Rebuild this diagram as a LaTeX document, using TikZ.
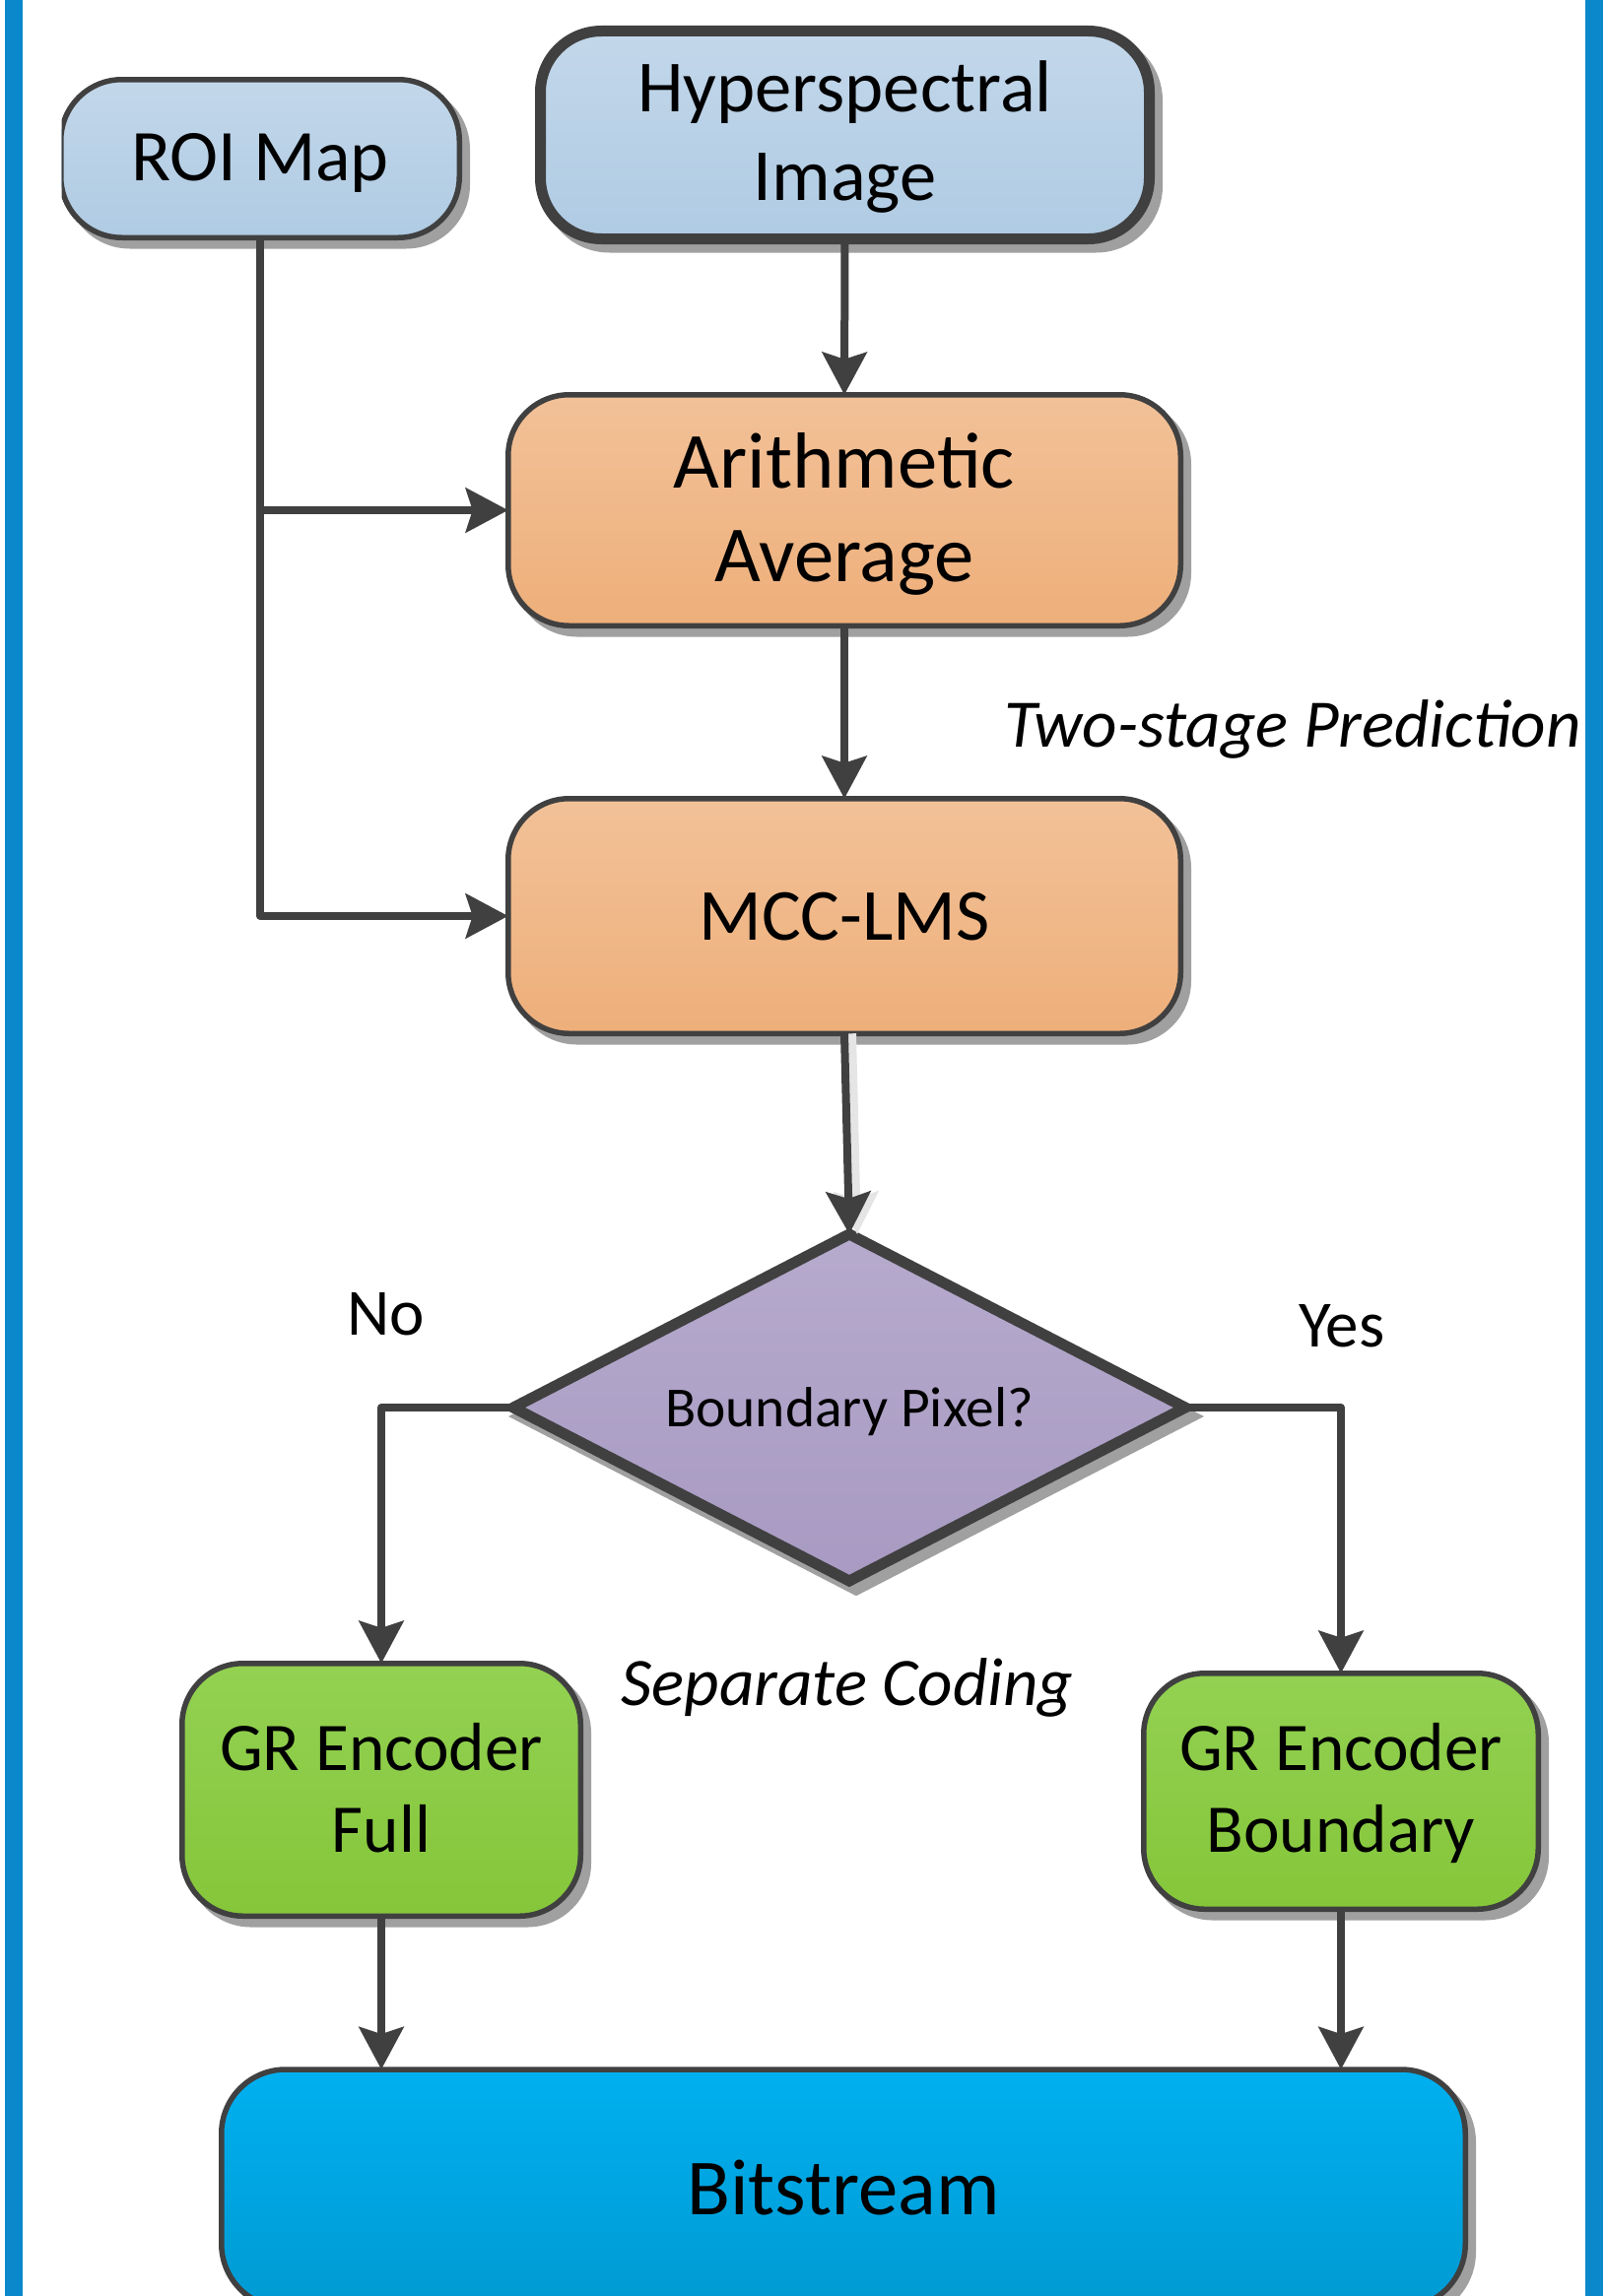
\documentclass[tikz,border=0pt]{standalone}
\usepackage{fontspec}
\setmainfont{Carlito}
\usetikzlibrary{arrows.meta,shapes.geometric,shadows}

\definecolor{edge}{RGB}{64,64,64}
\definecolor{sidebl}{RGB}{11,136,204}
\definecolor{shad}{RGB}{160,160,160}
\definecolor{blueT}{RGB}{195,215,234}
\definecolor{blueB}{RGB}{175,203,227}
\definecolor{orT}{RGB}{242,193,152}
\definecolor{orB}{RGB}{238,175,122}
\definecolor{puT}{RGB}{182,170,205}
\definecolor{puB}{RGB}{168,154,194}
\definecolor{grT}{RGB}{147,209,82}
\definecolor{grB}{RGB}{133,198,58}
\definecolor{bsT}{RGB}{0,176,240}
\definecolor{bsB}{RGB}{0,154,210}

\newcommand{\topstrut}[1]{\rule{0pt}{#1}}
\newcommand{\botstrut}[1]{\rule[-#1]{0pt}{0pt}}

\begin{document}
\begin{tikzpicture}[x=1pt,y=-1pt,
  flowbox/.style={rectangle, rounded corners=62pt, draw=edge, line width=5.5pt,
    inner sep=0pt, outer sep=0pt, align=center, text=black,
    drop shadow={shadow xshift=8pt, shadow yshift=-8.5pt, fill=shad, draw=shad, opacity=1}},
  bluebox/.style={flowbox, top color=blueT, bottom color=blueB},
  orbox/.style={flowbox, top color=orT, bottom color=orB},
  grbox/.style={flowbox, top color=grT, bottom color=grB},
  bsbox/.style={flowbox, top color=bsT, bottom color=bsB, rounded corners=65pt},
  conn/.style={draw=edge, line width=8pt, line join=round,
    -{Stealth[length=43pt,width=45pt,inset=7pt]}},
  lbl/.style={inner sep=0pt, outer sep=0pt, text=black},
]
\useasboundingbox (0,0) rectangle (1629,2331);
\clip (0,0) rectangle (1629,2331);

% side bars
\draw[sidebl, line width=18pt] (14,0) -- (14,2331);
\draw[sidebl, line width=18pt] (1617.5,0) -- (1617.5,2331);

% boxes
\begin{scope}
\clip (62.5,0) rectangle (1629,2331);
\node[bluebox, minimum width=404.5pt, minimum height=160.5pt,
  font=\fontsize{74pt}{90pt}\selectfont, text height=59pt, text depth=15pt]
  (roi) at (264,161) {ROI Map};
\end{scope}

\node[bluebox, line width=11pt, minimum width=618pt, minimum height=211pt,
  font=\fontsize{74.6pt}{90pt}\selectfont]
  (hyp) at (857.5,137) {\topstrut{62pt}Hyperspectral\\Image\botstrut{20pt}};

\node[orbox, minimum width=682.5pt, minimum height=234.5pt,
  font=\fontsize{80.7pt}{95pt}\selectfont]
  (ari) at (857,518) {\topstrut{71pt}Arithmetic\\Average\botstrut{22pt}};

\node[orbox, minimum width=682.5pt, minimum height=238.5pt,
  font=\fontsize{74.5pt}{90pt}\selectfont, text height=64.4pt, text depth=14.6pt]
  (mcc) at (857,930) {MCC-LMS};

\node[diamond, aspect=2, draw=edge, line width=11pt, top color=puT, bottom color=puB,
  minimum width=682pt, minimum height=352pt, inner sep=0pt, outer sep=0pt,
  drop shadow={shadow xshift=7pt, shadow yshift=-9pt, fill=shad, draw=shad, opacity=1},
  font=\fontsize{57.5pt}{69pt}\selectfont, text height=50pt, text depth=11pt]
  (dia) at (862,1429) {Boundary Pixel?};

\node[grbox, minimum width=404.5pt, minimum height=256.5pt,
  font=\fontsize{69.3pt}{83pt}\selectfont]
  (grf) at (387,1817) {\topstrut{62pt}GR Encoder\\Full\botstrut{19pt}};

\node[grbox, minimum width=400.5pt, minimum height=239.5pt,
  font=\fontsize{69.3pt}{83pt}\selectfont]
  (grb) at (1361,1818.5) {\topstrut{59pt}GR Encoder\\Boundary\botstrut{19pt}};

\node[bsbox, minimum width=1262.5pt, minimum height=242pt,
  font=\fontsize{80.7pt}{97pt}\selectfont, text height=68.4pt, text depth=15.6pt]
  (bs) at (856,2222) {Bitstream};

% labels
\node[lbl, anchor=base west, font=\fontsize{69pt}{83pt}\selectfont\itshape]
  (two) at (1019,758) {Two-stage Prediction};
\node[lbl, anchor=base west, font=\fontsize{67pt}{80pt}\selectfont]
  (no) at (352,1355) {No};
\node[lbl, anchor=base west, font=\fontsize{67pt}{80pt}\selectfont]
  (yes) at (1318,1367) {Yes};
\node[lbl, anchor=base, font=\fontsize{69pt}{83pt}\selectfont\itshape]
  (sep) at (860,1731) {Separate Coding};

% connectors
\draw[conn] (hyp.south) -- (ari.north);
\draw[conn] (ari.south) -- (mcc.north);
\draw[conn] (roi.south) |- (mcc.west);
\draw[conn] (roi.south |- ari.west) -- (ari.west);
\draw[conn, draw=black!10, transform canvas={xshift=8pt}] (mcc.south) -- (dia.north);
\draw[conn] (mcc.south) -- (dia.north);
\draw[conn] (dia.west) -| (grf.north);
\draw[conn] (dia.east) -| (grb.north);
\draw[conn] (grf.south) -- (grf.south |- bs.north);
\draw[conn] (grb.south) -- (grb.south |- bs.north);
\end{tikzpicture}
\end{document}
